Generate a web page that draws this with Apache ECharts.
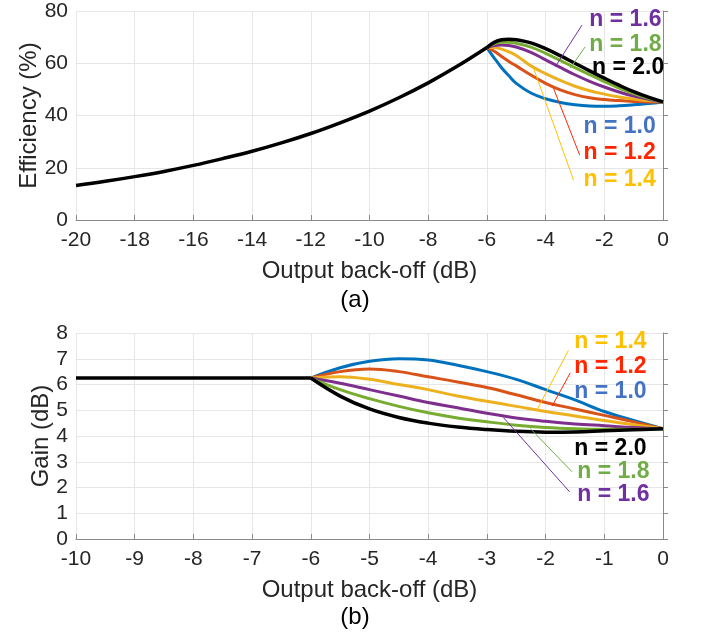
<!DOCTYPE html>
<html><head><meta charset="utf-8">
<script src="https://cdn.jsdelivr.net/npm/echarts@6/dist/echarts.min.js"></script>
<style>html,body{margin:0;padding:0;background:#fff}#c{width:710px;height:633px}</style>
</head><body><div id="c"></div>
<script>
// ---------- data ----------
const oboLow = [-20,-19,-18,-17,-16,-15,-14,-13,-12,-11,-10,-9,-8,-7,-6];
const effLow = [13.2,14.8,16.6,18.6,20.9,23.5,26.3,29.5,33.1,37.2,41.7,46.8,52.5,58.9,66];
const oboHigh = [-6,-5.75,-5.5,-5.25,-5,-4.5,-4,-3.5,-3,-2.5,-2,-1.5,-1,-0.5,0];
const eff10 = [66,62,58.3,55.2,52.3,48.6,46.4,45,44.1,43.6,43.5,43.7,44.1,44.6,45.2];
const eff12 = [66,64.6,62.6,60.7,59,55.5,52.3,49.8,48,46.8,46.1,45.7,45.4,45.2,45.2];
const eff14 = [66,66,65.4,64.4,63,59,56,53.4,51.2,49.5,48.2,47.1,46.3,45.7,45.2];
const eff16 = [66,66.8,67,66.8,66.2,64.2,61.3,58.4,55.6,53.1,50.9,49,47.4,46.2,45.2];
const eff18 = [66,67.4,68,68,67.6,66.2,63.8,61.1,58.3,55.6,53,50.5,48.4,46.6,45.2];
const eff20 = [66,68,69,69.2,69,67.8,65.6,62.9,60,57.1,54.3,51.6,49.1,47,45.2];

const gainLowX = [-10,-9,-8,-7,-6];
const gainLow = [6.25,6.25,6.25,6.25,6.25];
const oboGain = [-6,-5.5,-5,-4.5,-4,-3.5,-3,-2.5,-2,-1.5,-1,-0.5,0];
const gain10 = [6.25,6.65,6.9,7.0,6.95,6.75,6.5,6.2,5.8,5.4,4.95,4.6,4.28];
const gain12 = [6.25,6.5,6.6,6.5,6.3,6.1,5.88,5.6,5.3,5.05,4.8,4.55,4.28];
const gain14 = [6.25,6.3,6.2,6.0,5.8,5.55,5.35,5.15,4.95,4.78,4.6,4.44,4.28];
const gain16 = [6.25,6.05,5.8,5.55,5.3,5.1,4.88,4.7,4.57,4.47,4.4,4.33,4.28];
const gain18 = [6.25,5.8,5.45,5.15,4.9,4.7,4.55,4.42,4.33,4.28,4.26,4.26,4.28];
const gain20 = [6.25,5.55,5.05,4.72,4.5,4.35,4.25,4.18,4.15,4.16,4.2,4.24,4.28];

const nLabels = ['n = 1.0','n = 1.2','n = 1.4','n = 1.6','n = 1.8','n = 2.0'];
const curveColors = ['#0072BD','#D95319','#EDB120','#7E2F8E','#77AC30','#000000'];
const textColors = ['#4472C4','#FF2600','#FFC000','#7030A0','#70AD47','#000000'];

// leader lines: [x1,y1,x2,y2] in data units
const leadersA = {3:[-2.76,74.6,-3.67,58.7],4:[-2.65,66.3,-3.16,58.1],1:[-2.84,24.9,-3.73,50.4],2:[-3.05,15.3,-4.41,58.1]};
const leadersB = {2:[-1.61,7.33,-2.15,5.0],1:[-1.58,6.45,-1.89,5.16],4:[-1.55,2.61,-2.26,4.29],3:[-1.59,1.83,-2.72,4.72]};
// label anchor (left, vertical middle) in data units
const labelPosA = {3:[-2.51,76.6],4:[-2.51,67],5:[-2.42,58.2],0:[-2.71,35.6],1:[-2.71,25.6],2:[-2.71,15.3]};
const labelPosB = {2:[-1.51,7.65],1:[-1.51,6.68],0:[-1.51,5.71],5:[-1.51,3.52],4:[-1.46,2.62],3:[-1.46,1.71]};

const xTicksA = {min:-20,max:0,interval:2};
const yTicksA = {min:0,max:80,interval:20};
const xTicksB = {min:-10,max:0,interval:1};
const yTicksB = {min:0,max:8,interval:1};

// ---------- chart ----------
const FONT = 'Liberation Sans, Arial, sans-serif';
const zip = (xs, ys) => xs.map((x,i)=>[x, ys[i]]);
function axisCommon(t){
  return Object.assign({type:'value', nameMoveOverlap:false, axisLine:{show:true,lineStyle:{color:'#8a8a8a',width:1}},
    axisTick:{show:true,inside:true,length:5,lineStyle:{color:'#8a8a8a'}},
    splitLine:{show:true,lineStyle:{color:'#e6e6e6',width:1}},
    axisLabel:{color:'#262626',fontSize:21,fontFamily:FONT},
    nameTextStyle:{color:'#262626',fontSize:24,fontFamily:FONT}}, t);
}
const series = [];
const effSets = [eff10,eff12,eff14,eff16,eff18,eff20];
const gainSets = [gain10,gain12,gain14,gain16,gain18,gain20];
effSets.forEach((d,i)=>series.push({type:'line',xAxisIndex:0,yAxisIndex:0,data:zip(oboHigh,d),smooth:0.4,showSymbol:false,
  lineStyle:{color:curveColors[i],width:i===5?3.5:3},z:3+i,silent:true,animation:false}));
series.push({type:'line',xAxisIndex:0,yAxisIndex:0,data:zip(oboLow,effLow),smooth:0.4,showSymbol:false,lineStyle:{color:'#000',width:3.5},z:9,animation:false});
gainSets.forEach((d,i)=>series.push({type:'line',xAxisIndex:1,yAxisIndex:1,data:zip(oboGain,d),smooth:0.4,showSymbol:false,
  lineStyle:{color:curveColors[i],width:i===5?3.5:3},z:3+i,animation:false}));
series.push({type:'line',xAxisIndex:1,yAxisIndex:1,data:zip(gainLowX,gainLow),showSymbol:false,lineStyle:{color:'#000',width:3.5},z:9,animation:false});
Object.keys(leadersA).forEach(k=>{const L=leadersA[k];series.push({type:'line',xAxisIndex:0,yAxisIndex:0,data:[[L[0],L[1]],[L[2],L[3]]],showSymbol:false,lineStyle:{color:textColors[k],width:1},z:10,animation:false});});
Object.keys(leadersB).forEach(k=>{const L=leadersB[k];series.push({type:'line',xAxisIndex:1,yAxisIndex:1,data:[[L[0],L[1]],[L[2],L[3]]],showSymbol:false,lineStyle:{color:textColors[k],width:1},z:10,animation:false});});

const chart = echarts.init(document.getElementById('c'), null, {renderer:'canvas'});
chart.setOption({
  animation:false,
  grid:[{left:76,top:11,width:587,height:209},{left:76,top:333,width:587,height:206}],
  xAxis:[axisCommon(Object.assign({gridIndex:0,name:'Output back-off (dB)',nameLocation:'middle',nameGap:39},xTicksA)),
         axisCommon(Object.assign({gridIndex:1,name:'Output back-off (dB)',nameLocation:'middle',nameGap:39},xTicksB))],
  yAxis:[axisCommon(Object.assign({gridIndex:0,name:'Efficiency (%)',nameLocation:'middle',nameGap:35},yTicksA)),
         axisCommon(Object.assign({gridIndex:1,name:'Gain (dB)',nameLocation:'middle',nameGap:23},yTicksB))],
  series:series
});
chart.setOption({xAxis:[{axisLabel:{margin:10}},{axisLabel:{margin:10}}],yAxis:[{axisLabel:{margin:8}},{axisLabel:{margin:8}}]});

const g = [];
function addLabels(pos, gi){
  Object.keys(pos).forEach(k=>{
    const p = chart.convertToPixel({gridIndex:gi}, pos[k]);
    g.push({type:'text',x:p[0],y:p[1],style:{text:nLabels[k],fill:textColors[k],font:'bold 23px '+FONT,textAlign:'left',textVerticalAlign:'middle'},z:20});
  });
}
addLabels(labelPosA,0); addLabels(labelPosB,1);
g.push({type:'text',x:355,y:300,style:{text:'(a)',fill:'#000',font:'24px '+FONT,textAlign:'center',textVerticalAlign:'middle'}});
g.push({type:'text',x:355,y:617,style:{text:'(b)',fill:'#000',font:'24px '+FONT,textAlign:'center',textVerticalAlign:'middle'}});
chart.setOption({graphic:g});
</script></body></html>
